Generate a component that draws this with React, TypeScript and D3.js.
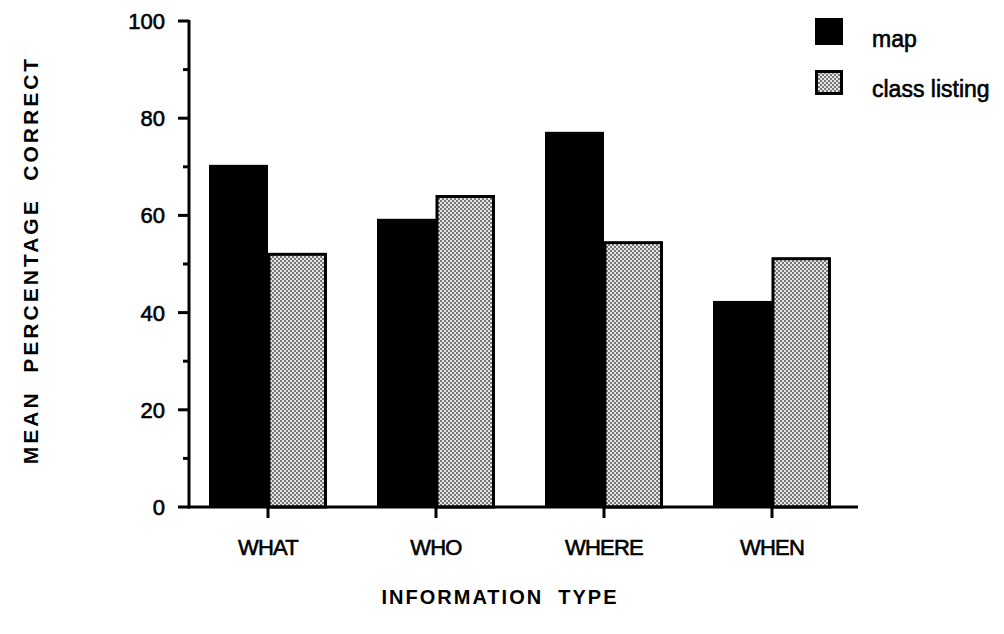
import React from "react";
import * as d3 from "d3";

const categories = ["WHAT", "WHO", "WHERE", "WHEN"];
const seriesNames = ["map", "class listing"];
const mapValues = [70.4, 59.3, 77.2, 42.4];
const classValues = [52.3, 64.2, 54.7, 51.4];
const yMajorTicks = [0, 20, 40, 60, 80, 100];
const yMinorTicks = [10, 30, 50, 70, 90];

const W = 1004;
const H = 634;
const FONT = "'Liberation Sans', Arial, Helvetica, sans-serif";

export default function App() {
  const y = d3.scaleLinear().domain([0, 100]).range([507, 21]);
  const x0 = d3.scaleBand<string>().domain(categories).range([184, 856]).padding(0);
  const x1 = d3.scaleBand<string>().domain(seriesNames).range([-59, 59]).padding(0);
  const axisX = 189;
  const axisEnd = 858;
  const thick = { stroke: "#000", strokeWidth: 0.6 };

  return (
    <div style={{ position: "fixed", left: 0, top: 0 }}>
      <svg width={W} height={H} style={{ display: "block", background: "#fff" }}>
        <defs>
          <pattern id="stipple" width="4" height="4" patternUnits="userSpaceOnUse">
            <rect width="4" height="4" fill="#e6e6e6" />
            <circle cx="1" cy="1" r="0.9" fill="#444" />
            <circle cx="3" cy="3" r="0.9" fill="#444" />
          </pattern>
        </defs>

        {/* bars */}
        {categories.map((c, i) => {
          const cx = (x0(c) as number) + x0.bandwidth() / 2;
          const mx = cx + (x1("map") as number);
          const kx = cx + (x1("class listing") as number);
          const bw = x1.bandwidth();
          return (
            <g key={c}>
              <rect x={mx} y={y(mapValues[i])} width={bw} height={y(0) - y(mapValues[i])} fill="#000" />
              <rect
                x={kx + 1}
                y={y(classValues[i]) + 1.5}
                width={bw - 2.5}
                height={y(0) - y(classValues[i]) - 1.5}
                fill="url(#stipple)"
                stroke="#000"
                strokeWidth={3}
              />
            </g>
          );
        })}

        {/* y axis */}
        <line x1={axisX} x2={axisX} y1={y(100) - 1} y2={y(0) + 1.5} stroke="#000" strokeWidth={3} />
        {yMajorTicks.map((t) => (
          <g key={"M" + t}>
            <line x1={axisX - 11} x2={axisX} y1={y(t)} y2={y(t)} stroke="#000" strokeWidth={3} />
            <text x={165} y={y(t) + 8} textAnchor="end" fontFamily={FONT} fontSize={22} fill="#000" {...thick}>
              {t}
            </text>
          </g>
        ))}
        {yMinorTicks.map((t) => (
          <line key={"m" + t} x1={axisX - 6} x2={axisX} y1={y(t)} y2={y(t)} stroke="#000" strokeWidth={3} />
        ))}

        {/* x axis */}
        <line x1={axisX - 1.5} x2={axisEnd} y1={y(0)} y2={y(0)} stroke="#000" strokeWidth={3} />
        {categories.map((c) => {
          const cx = (x0(c) as number) + x0.bandwidth() / 2;
          return (
            <g key={"x" + c}>
              <line x1={cx} x2={cx} y1={y(0)} y2={y(0) + 11} stroke="#000" strokeWidth={3} />
              <text x={cx} y={555} textAnchor="middle" fontFamily={FONT} fontSize={22} letterSpacing={-0.8} fill="#000" {...thick}>
                {c}
              </text>
            </g>
          );
        })}

        {/* axis titles */}
        <text
          transform={`translate(38, 260) rotate(-90)`}
          textAnchor="middle"
          fontFamily={FONT}
          fontWeight="bold"
          fontSize={21}
          letterSpacing={3}
          fill="#000"
          style={{ whiteSpace: "pre" }}
        >
          {"MEAN  PERCENTAGE  CORRECT"}
        </text>
        <text
          x={500}
          y={604}
          textAnchor="middle"
          fontFamily={FONT}
          fontWeight="bold"
          fontSize={20}
          letterSpacing={2}
          fill="#000"
          style={{ whiteSpace: "pre" }}
        >
          {"INFORMATION  TYPE"}
        </text>

        {/* legend */}
        <rect x={815} y={18} width={28} height={27} fill="#000" />
        <text x={872} y={47} fontFamily={FONT} fontSize={23} fill="#000" {...thick}>
          {seriesNames[0]}
        </text>
        <rect x={816.5} y={71.5} width={25} height={22} fill="url(#stipple)" stroke="#000" strokeWidth={3} />
        <text x={872} y={97} fontFamily={FONT} fontSize={23} fill="#000" {...thick}>
          {seriesNames[1]}
        </text>
      </svg>
    </div>
  );
}
